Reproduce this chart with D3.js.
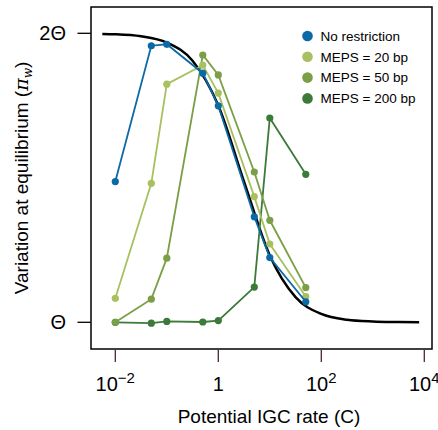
<!DOCTYPE html>
<html><head><meta charset="utf-8">
<script src="https://cdn.jsdelivr.net/npm/d3@7"></script>
<style>body{margin:0;background:#fff}svg{display:block}text{font-family:"Liberation Sans",Arial,sans-serif}</style>
</head><body>
<svg id="c" width="438" height="430"></svg>
<script>
// potential IGC rate values (C)
const rates = [0.01, 0.05, 0.1, 0.5, 1, 5, 10, 50];
// variation at equilibrium, in units of Theta
const noRestriction = [1.487, 1.957, 1.962, 1.862, 1.749, 1.365, 1.224, 1.071];
const meps20  = [1.083, 1.481, 1.824, 1.890, 1.793, 1.435, 1.271, 1.089];
const meps50  = [1.000, 1.080, 1.222, 1.925, 1.856, 1.520, 1.353, 1.120];
const meps200 = [1.000, 0.997, 1.003, 1.001, 1.006, 1.122, 1.707, 1.512];
// theoretical curve
const curveC = [0.0056, 0.01, 0.0316, 0.1, 0.316, 1, 3.16, 10, 31.6, 100, 316, 1000, 3162, 7943];
const curveV = [1.998, 1.997, 1.990, 1.968, 1.905, 1.750, 1.487, 1.231, 1.087, 1.029, 1.009, 1.003, 1.001, 1.000];
const seriesNames = ["No restriction", "MEPS = 20 bp", "MEPS = 50 bp", "MEPS = 200 bp"];
const colors = ["#0b6aa6", "#a8c060", "#7a9f46", "#3c7a3a"];
const xTicks = [-2, 0, 2, 4];
const yTicks = [1, 2];
const yTickLabels = ["Θ", "2Θ"];

const svg = d3.select("#c");
const L = 91, R = 432, T = 7, B = 349;
const x = d3.scaleLog()
  .domain([Math.pow(10, (L - 218.3) / 51.5), Math.pow(10, (R - 218.3) / 51.5)])
  .range([L, R]);
const y = d3.scaleLinear().domain([1, 2]).range([322.3, 33.3]);

// box
svg.append("rect").attr("x", L).attr("y", T).attr("width", R - L).attr("height", B - T)
  .attr("fill", "none").attr("stroke", "#000").attr("stroke-width", 1.5);

// x axis ticks
const xa = svg.append("g");
xTicks.forEach(e => {
  const px = x(Math.pow(10, e));
  xa.append("line").attr("x1", px).attr("x2", px).attr("y1", 350).attr("y2", 362)
    .attr("stroke", "#4a2a2a").attr("stroke-width", 1.3);
  const t = xa.append("text").attr("x", px).attr("y", 391).attr("text-anchor", "middle")
    .attr("font-size", 20).attr("fill", "#000");
  if (e === 0) t.text("1");
  else {
    t.append("tspan").text("10");
    t.append("tspan").attr("dy", -8).attr("font-size", 15).text(e < 0 ? "\u2212" + (-e) : String(e));
  }
});
// y axis ticks
yTicks.forEach((v, i) => {
  svg.append("line").attr("x1", 77.5).attr("x2", L).attr("y1", y(v)).attr("y2", y(v))
    .attr("stroke", "#000").attr("stroke-width", 1.3);
  svg.append("text").attr("x", 66).attr("y", y(v) + 7).attr("text-anchor", "end")
    .attr("font-size", 20).text(yTickLabels[i]);
});

// axis titles
svg.append("text").attr("x", 269).attr("y", 423).attr("text-anchor", "middle")
  .attr("font-size", 19).text("Potential IGC rate (C)");
const yl = svg.append("text").attr("transform", "translate(28," + ((T + B) / 2) + ") rotate(-90)")
  .attr("text-anchor", "middle").attr("font-size", 19);
yl.append("tspan").text("Variation at equilibrium (");
yl.append("tspan").attr("font-style", "italic").attr("font-family", "DejaVu Serif").text("π");
yl.append("tspan").attr("dy", 4).attr("font-size", 12).attr("font-style", "italic").attr("font-family", "DejaVu Serif").text("w");
yl.append("tspan").attr("dy", -4).text(")");

// theoretical curve
const curveData = curveC.map((c, i) => [c, curveV[i]]);
svg.append("path").datum(curveData)
  .attr("d", d3.line().x(d => x(d[0])).y(d => y(d[1])).curve(d3.curveMonotoneX))
  .attr("fill", "none").attr("stroke", "#000").attr("stroke-width", 2.5);

// series
const allSeries = [noRestriction, meps20, meps50, meps200];
const drawOrder = [3, 2, 1, 0];
drawOrder.forEach(si => {
  const vals = allSeries[si];
  const pts = rates.map((c, i) => [c, vals[i]]);
  const g = svg.append("g");
  g.append("path").datum(pts)
    .attr("d", d3.line().x(d => x(d[0])).y(d => y(d[1])))
    .attr("fill", "none").attr("stroke", colors[si]).attr("stroke-width", 1.8);
  g.selectAll("circle").data(pts).join("circle")
    .attr("cx", d => x(d[0])).attr("cy", d => y(d[1])).attr("r", 3.6)
    .attr("fill", colors[si]);
});

// legend
seriesNames.forEach((n, i) => {
  const yy = 36 + i * 20.8;
  svg.append("circle").attr("cx", 307.5).attr("cy", yy).attr("r", 5.3).attr("fill", colors[i]);
  svg.append("text").attr("x", 320.5).attr("y", yy + 4.8).attr("font-size", 13.5).text(n);
});
</script>
</body></html>
